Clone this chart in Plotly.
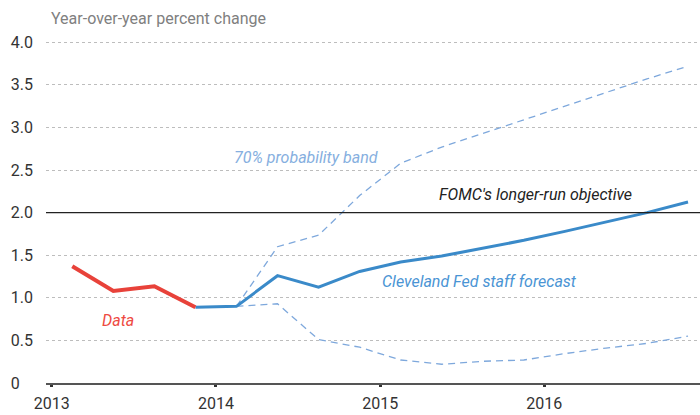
import plotly.graph_objects as go

# ---- data ----
data_x = [2013.125, 2013.375, 2013.625, 2013.875]
data_y = [1.37, 1.08, 1.135, 0.89]

fc_x = [2013.875, 2014.125, 2014.375, 2014.625, 2014.875, 2015.125, 2015.375,
        2015.625, 2015.875, 2016.125, 2016.375, 2016.625, 2016.875]
fc_y = [0.89, 0.90, 1.26, 1.125, 1.31, 1.42, 1.49, 1.585, 1.675, 1.78, 1.89, 2.0, 2.125]

band_x = [2014.125, 2014.375, 2014.625, 2014.875, 2015.125, 2015.375,
          2015.625, 2015.875, 2016.125, 2016.375, 2016.625, 2016.875]
upper_y = [0.90, 1.60, 1.735, 2.20, 2.58, 2.77, 2.93, 3.09, 3.25, 3.41, 3.57, 3.72]
lower_y = [0.90, 0.93, 0.51, 0.42, 0.27, 0.22, 0.255, 0.27, 0.345, 0.41, 0.465, 0.55]

objective = 2.0

y_ticks = [0, 0.5, 1.0, 1.5, 2.0, 2.5, 3.0, 3.5, 4.0]
y_labels = ["0\u2007\u2008", "0.5", "1.0", "1.5", "2.0", "2.5", "3.0", "3.5", "4.0"]
x_ticks = [2013, 2014, 2015, 2016]
x_labels = ["2013", "2014", "2015", "2016"]

FONT = "Roboto, sans-serif"
RED = "#e8423a"
BLUE = "#3a8ac9"
BAND = "#7ea8dc"

fig = go.Figure()

fig.add_trace(go.Scatter(x=band_x, y=upper_y, mode="lines",
                         line=dict(color=BAND, width=1.3, dash="7px,5px"), hoverinfo="skip"))
fig.add_trace(go.Scatter(x=band_x, y=lower_y, mode="lines",
                         line=dict(color=BAND, width=1.3, dash="7px,5px"), hoverinfo="skip"))
fig.add_trace(go.Scatter(x=fc_x, y=fc_y, mode="lines",
                         line=dict(color=BLUE, width=3), hoverinfo="skip"))
fig.add_trace(go.Scatter(x=data_x, y=data_y, mode="lines",
                         line=dict(color=RED, width=4), hoverinfo="skip"))

fig.add_shape(type="line", xref="paper", x0=0, x1=1, yref="y", y0=objective, y1=objective,
              line=dict(color="#222222", width=1.2), layer="above")

ann_font = dict(family=FONT, size=16)
fig.add_annotation(x=2014.096, y=2.643, xref="x", yref="y", text="<i>70% probability band</i>",
                   showarrow=False, xanchor="left", yanchor="middle",
                   font=dict(ann_font, color="#86afe0"))
fig.add_annotation(x=2015.345, y=2.209, xref="x", yref="y", text="<i>FOMC's longer-run objective</i>",
                   showarrow=False, xanchor="left", yanchor="middle",
                   font=dict(ann_font, color="#222222"))
fig.add_annotation(x=2015.002, y=1.192, xref="x", yref="y", text="<i>Cleveland Fed staff forecast</i>",
                   showarrow=False, xanchor="left", yanchor="middle",
                   font=dict(ann_font, color="#4a94d4"))
fig.add_annotation(x=2013.294, y=0.734, xref="x", yref="y", text="<i>Data</i>",
                   showarrow=False, xanchor="left", yanchor="middle",
                   font=dict(ann_font, color="#ee4a42"))
fig.add_annotation(x=0, y=1.0, xref="paper", yref="paper", text="Year-over-year percent change",
                   showarrow=False, xanchor="left", yanchor="bottom", xshift=3, yshift=10,
                   font=dict(family=FONT, size=16, color="#808080"))

fig.update_layout(
    width=700, height=415,
    margin=dict(l=46, r=0, t=40, b=32),
    paper_bgcolor="white", plot_bgcolor="white",
    showlegend=False,
    font=dict(family=FONT, size=16, color="#333333"),
    xaxis=dict(range=[2012.965, 2016.948], tickvals=x_ticks, ticktext=x_labels,
               showgrid=False, zeroline=False, showline=True, linecolor="#555555", linewidth=1.5,
               ticks="outside", ticklen=2, tickwidth=3, tickcolor="#333333",
               ticklabelstandoff=3,
               tickfont=dict(family=FONT, size=16, color="#333333")),
    yaxis=dict(range=[0, 4.027], tickvals=y_ticks, ticktext=y_labels,
               showgrid=True, gridcolor="#bdbdbd", gridwidth=1, griddash="dot",
               zeroline=False, showline=False, ticks="", ticklabelstandoff=12,
               tickfont=dict(family=FONT, size=16, color="#333333")),
)

fig.write_html("out.html", config={"displayModeBar": False},
               post_script="document.body.style.margin='0';")
